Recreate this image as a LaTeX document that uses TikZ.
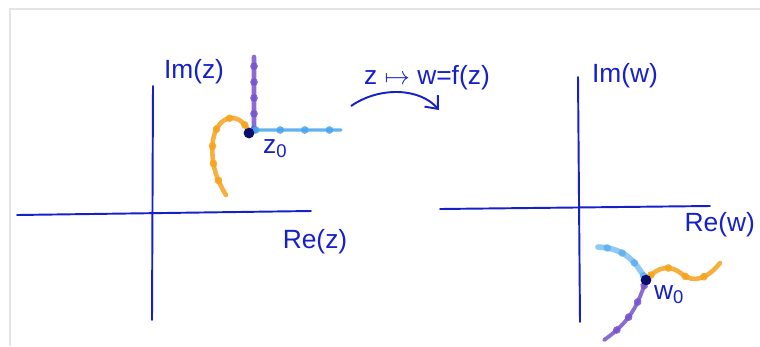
\documentclass[tikz,border=0pt]{standalone}
\usepackage{fontspec}
\setmainfont{Liberation Sans}
\usepackage{tikz}
\usetikzlibrary{positioning,arrows.meta,calc,decorations.markings}
\definecolor{InkBlue}{RGB}{22,32,200}
\definecolor{PenPurple}{RGB}{118,82,205}
\definecolor{PenSky}{RGB}{70,165,235}
\definecolor{PenOrange}{RGB}{246,162,28}
\definecolor{DotNavy}{RGB}{12,14,110}
\definecolor{FrameGray}{RGB}{228,228,228}

\begin{document}
\begin{tikzpicture}[
  x=0.02cm, y=-0.02cm,
  axis/.style={draw=InkBlue,line width=1.1pt,line cap=round},
  lbl/.style={text=InkBlue,font=\fontsize{15}{18}\selectfont,inner sep=1pt},
  pt/.style={circle,fill=DotNavy,inner sep=0pt,minimum size=6pt},
  pen/.style={color=#1,line width=2.6pt,line cap=round,line join=round,opacity=0.85},
  beads/.style={postaction={decorate,decoration={markings,
    mark=between positions 0.08 and 0.95 step #1 with {\fill circle (2.2pt);}}}},
  maparr/.style={-{Straight Barb[length=6pt,width=10pt]},draw=InkBlue,line width=1.1pt}
]
% frame of the scan
\useasboundingbox (0,0) rectangle (760,346);
\draw[FrameGray,line width=0.8pt] (760,9) -- (10,9) -- (10,346);

% z-plane
\coordinate (zxl) at (17,215);
\coordinate (zxr) at (311,211);
\coordinate (zyt) at (153,86);
\coordinate (zyb) at (152,320);
\draw[axis] (zxl) -- (zxr);
\draw[axis] (zyt) -- (zyb);
\node[lbl] (imz) at (194,72) {Im(z)};
\node[lbl] (rez) at (315,242) {Re(z)};

\node[pt] (z0) at (249,133) {};
\node[lbl,anchor=north west] (z0lbl) at (261,137) {z\textsubscript{0}};
\coordinate (zup) at (254,57);
\coordinate (zright) at (341,130);
\coordinate (zarc) at (226,195);

\draw[pen=PenPurple,beads=9pt] (z0.center) -- (254,130) -- (zup);
\draw[pen=PenSky,beads=14pt,line width=1.8pt] (z0.center) -- (254,130) -- (zright);
\draw[pen=PenOrange,beads=10pt] (z0.center) .. controls (242,112) and (218,112) .. (213,140)
  .. controls (210,165) and (218,182) .. (zarc);
\node[pt] at (z0) {};

% the map
\node[lbl] (map) at (427,78) {z $\mapsto$ w=f(z)};
\coordinate (arrs) at (351,106);
\coordinate (arre) at (439,110);
\draw[maparr] (arrs) .. controls (380,86) and (420,88) .. (arre);

% w-plane
\coordinate (wxl) at (440,209);
\coordinate (wxr) at (710,206);
\coordinate (wyt) at (578,77);
\coordinate (wyb) at (580,322);
\draw[axis] (wxl) -- (wxr);
\draw[axis] (wyt) -- (wyb);
\node[lbl] (imw) at (625,76) {Im(w)};
\node[lbl,anchor=east] (rew) at (757,225) {Re(w)};

\node[pt] (w0) at (646,280) {};
\node[lbl,anchor=north west] (w0lbl) at (652,283) {w\textsubscript{0}};
\coordinate (wsky) at (598,247);
\coordinate (worange) at (720,263);
\coordinate (wpurple) at (604,340);

\draw[pen=PenSky,beads=9pt,line width=3.2pt,opacity=0.6] (w0.center) .. controls (636,262) and (625,248) .. (wsky);
\draw[pen=PenOrange,beads=11pt] (w0.center) .. controls (660,264) and (672,266) .. (682,274)
  .. controls (694,284) and (708,278) .. (worange);
\draw[pen=PenPurple,beads=10pt,line width=2.2pt] (w0.center) .. controls (638,305) and (630,322) .. (wpurple);
\node[pt] at (w0) {};
\end{tikzpicture}
\end{document}
